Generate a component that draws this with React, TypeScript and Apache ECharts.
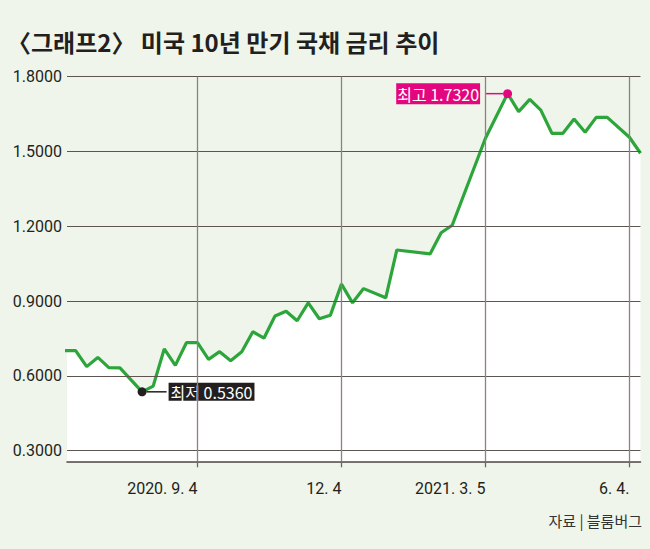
import React, { useEffect, useRef } from "react";
import * as echarts from "echarts";

// weeks since 2020-06-12 (weekly Friday closes)
const weekIndex = [0, 1, 2, 3, 4, 5, 7, 8, 9, 10, 11, 12, 13, 14, 15, 16, 17, 18, 19, 20, 21, 22, 23, 24, 25, 26, 27, 29, 30, 33, 34, 35, 38, 40, 41, 42, 43, 44, 45, 46, 47, 48, 49, 51, 52];
const yields = [0.701, 0.701, 0.637, 0.674, 0.633, 0.632, 0.536, 0.559, 0.708, 0.642, 0.733, 0.733, 0.666, 0.697, 0.661, 0.697, 0.777, 0.751, 0.84, 0.859, 0.821, 0.893, 0.829, 0.843, 0.968, 0.893, 0.95, 0.913, 1.105, 1.089, 1.174, 1.204, 1.553, 1.732, 1.66, 1.709, 1.666, 1.573, 1.573, 1.63, 1.577, 1.637, 1.637, 1.557, 1.493];

const tickWeeks = [12, 25, 38, 51];
const tickLabels = ["2020. 9. 4", "12. 4", "2021. 3. 5", "6. 4."];
const yTicks = [0.3, 0.6, 0.9, 1.2, 1.5, 1.8];

const titleText = "〈그래프2〉 미국 10년 만기 국채 금리 추이";
const sourceText = "자료 | 블룸버그";
const lowPrefix = "최저";
const highPrefix = "최고";

const BG = "#eff5ea";
const GREEN = "#2ca53a";
const PINK = "#e3067f";
const DARK = "#231f20";
const KR = "'Noto Sans CJK KR', 'Noto Sans', sans-serif";
const NUM = "Roboto, 'Noto Sans', sans-serif";

export default function App() {
  const ref = useRef<HTMLDivElement>(null);
  useEffect(() => {
    if (!ref.current) return;
    const chart = echarts.init(ref.current, null, { renderer: "svg" });
    const pts = weekIndex.map((w, i) => [w, yields[i]]);
    let lo = 0, hi = 0;
    yields.forEach((v, i) => {
      if (v < yields[lo]) lo = i;
      if (v > yields[hi]) hi = i;
    });

    const option: any = {
      animation: false,
      backgroundColor: BG,
      title: {
        text: titleText,
        left: 2,
        top: 24,
        textStyle: { fontFamily: KR, fontSize: 24, fontWeight: "bold", color: DARK },
      },
      graphic: [
        {
          type: "text",
          right: 8,
          top: 513,
          style: { text: sourceText, font: `15px ${KR}`, fill: "#333" },
        },
      ],
      grid: { left: 67, right: 9.5, top: 76.7, bottom: 87.7 },
      xAxis: {
        type: "value",
        min: 0.22,
        max: 52,
        axisLine: { show: true, lineStyle: { color: "#4a403c", width: 1.5 } },
        axisTick: { show: true, customValues: tickWeeks, length: 6, lineStyle: { color: "#6d6560", width: 1.3 } },
        axisLabel: {
          customValues: tickWeeks,
          formatter: (v: number) => tickLabels[tickWeeks.indexOf(Math.round(v))] ?? "",
          align: "right",
          margin: 19,
          fontSize: 16,
          fontFamily: NUM,
          color: DARK,
        },
        splitLine: { show: false },
      },
      yAxis: {
        type: "value",
        min: 0.2573,
        max: 1.8,
        axisLine: { show: false },
        axisTick: { show: false },
        axisLabel: {
          customValues: yTicks,
          formatter: (v: number) => v.toFixed(4),
          margin: 5,
          fontSize: 16,
          fontFamily: NUM,
          color: DARK,
        },
        splitLine: { show: false },
      },
      series: [
        {
          type: "line",
          z: 1,
          data: pts,
          showSymbol: false,
          lineStyle: { width: 0 },
          areaStyle: { color: "#ffffff", opacity: 1, origin: "start" },
          silent: true,
        },
        {
          type: "line",
          z: 2,
          data: [],
          markLine: {
            silent: true,
            symbol: "none",
            label: { show: false },
            animation: false,
            data: [
              ...yTicks.map((v) => ({ yAxis: v, lineStyle: { color: "#5e5552", width: 1, type: "solid" } })),
              ...tickWeeks.map((w) => ({ xAxis: w, lineStyle: { color: "#8a837f", width: 1.3, type: "solid" } })),
            ],
          },
        },
        {
          type: "line",
          z: 3,
          data: pts,
          showSymbol: false,
          lineStyle: { color: GREEN, width: 3.2 },
          silent: true,
        },
        {
          type: "scatter",
          z: 4,
          symbol: "circle",
          itemStyle: { opacity: 1 },
          data: [
            {
              value: pts[lo],
              symbolSize: 9,
              itemStyle: { color: DARK, opacity: 1 },
              label: {
                show: true,
                position: "right",
                distance: 0,
                formatter: `{ln|}{gp|}{bx|${lowPrefix} ${yields[lo].toFixed(4)}}`,
                rich: {
                  ln: { width: 20, height: 1.5, backgroundColor: DARK, verticalAlign: "middle" },
                  gp: { width: 2 },
                  bx: {
                    backgroundColor: DARK,
                    color: "#fff",
                    fontFamily: KR,
                    fontSize: 16,
                    padding: [1, 2, 1, 2],
                    lineHeight: 16,
                    verticalAlign: "middle",
                  },
                },
              },
            },
            {
              value: pts[hi],
              symbolSize: 9,
              itemStyle: { color: PINK, opacity: 1 },
              label: {
                show: true,
                position: "left",
                distance: 0,
                formatter: `{bx|${highPrefix} ${yields[hi].toFixed(4)}}{gp|}{ln|}`,
                rich: {
                  ln: { width: 17, height: 1.5, backgroundColor: PINK, verticalAlign: "middle" },
                  gp: { width: 6 },
                  bx: {
                    backgroundColor: PINK,
                    color: "#fff",
                    fontFamily: KR,
                    fontSize: 16,
                    padding: [3, 1, 2, 1],
                    lineHeight: 17,
                    verticalAlign: "middle",
                  },
                },
              },
            },
          ],
        },
      ],
    };
    chart.setOption(option);
    return () => chart.dispose();
  }, []);
  return (
    <div
      ref={ref}
      style={{ position: "fixed", left: 0, top: 0, width: 650, height: 549, background: BG }}
    />
  );
}
